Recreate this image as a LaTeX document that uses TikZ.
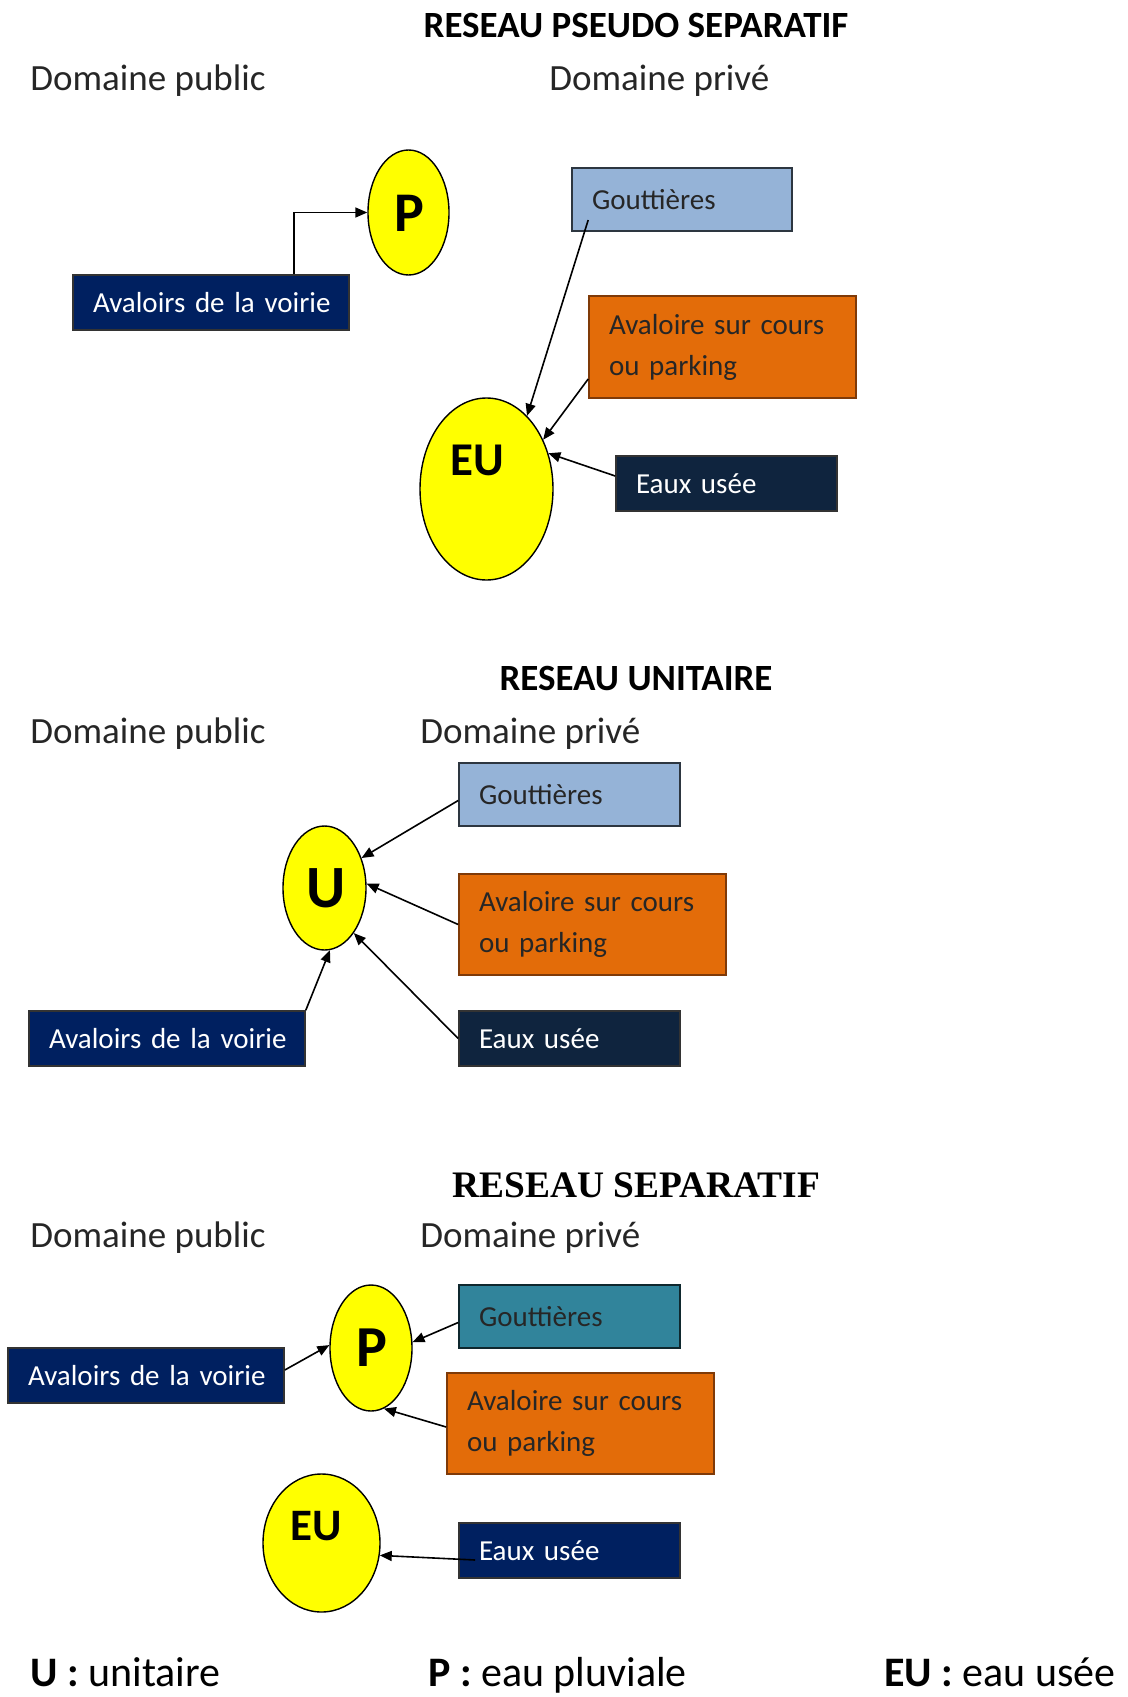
\documentclass[tikz,border=0pt]{standalone}
\usepackage{fontspec}
\setmainfont{Carlito}
\newfontfamily\timesfont{Liberation Serif}
\usetikzlibrary{shapes.geometric,arrows.meta}
\definecolor{navy}{HTML}{002060}
\definecolor{darknavy}{HTML}{0F243E}
\definecolor{lightblue}{HTML}{95B3D7}
\definecolor{teal3}{HTML}{31849B}
\definecolor{orange3}{HTML}{E36C09}
\definecolor{orangeb}{HTML}{7F3A08}
\definecolor{yel}{HTML}{FFFF00}
\tikzset{
  boxbase/.style={rectangle, draw=black!80, line width=0.8pt, inner xsep=10pt, inner ysep=0pt, align=left,
    font=\fontsize{14.5pt}{20.5pt}\selectfont},
  navybox/.style={boxbase, fill=navy, text=white},
  darkbox/.style={boxbase, fill=darknavy, text=white},
  bluebox/.style={boxbase, fill=lightblue, draw=black!70!lightblue, text=black!85},
  tealbox/.style={boxbase, fill=teal3, draw=black!70!teal3, text=black!85},
  orangebox/.style={boxbase, fill=orange3, draw=orangeb, text=black!85},
  bubble/.style={ellipse, draw=black, line width=0.7pt, fill=yel, inner sep=0pt},
  bubtxt/.style={font=\bfseries},
  heading/.style={anchor=base west, font=\fontsize{18.5pt}{22pt}\selectfont, text=black!85, inner sep=0pt},
  titletxt/.style={anchor=base, font=\fontsize{18.5pt}{22pt}\selectfont\bfseries, inner sep=0pt},
  legendtxt/.style={anchor=base west, font=\fontsize{21pt}{25pt}\selectfont, inner sep=0pt},
  arr/.style={draw=black, line width=0.8pt, -{Triangle[length=6pt,width=5pt]}},
}
\begin{document}
\begin{tikzpicture}[x=0.5pt,y=-0.5pt]
\useasboundingbox (0,0) rectangle (1128,1697);

% ---------------- Section 1 ----------------
\node[titletxt] (t1) at (636,37) {RESEAU PSEUDO SEPARATIF};
\node[heading] (dp1) at (30,90) {Domaine public};
\node[heading] (dv1) at (549,90) {Domaine privé};

\node[bubble, minimum width=40.5pt, minimum height=62.5pt] (P1) at (408.5,212.5) {};
\node[bubtxt, font=\fontsize{28pt}{30pt}\selectfont\bfseries] (P1t) at (409,213) {P};
\node[bubble, minimum width=66.5pt, minimum height=91pt] (EU1) at (486.5,489) {};
\node[bubtxt, font=\fontsize{23.5pt}{26pt}\selectfont\bfseries] (EU1t) at (477,460) {EU};

\node[navybox, minimum width=138pt, minimum height=27.5pt, text width=118pt] (av1) at (211,302.5) {\mbox{Avaloirs de la voirie}};
\node[bluebox, minimum width=110pt, minimum height=31.5pt, text width=90pt] (g1) at (682,199.5) {Gouttières};
\node[orangebox, minimum width=133.5pt, minimum height=51pt, text width=113.5pt] (ac1) at (722.5,347) {Avaloire sur cours\\ou parking};
\node[darkbox, minimum width=110.5pt, minimum height=27.5pt, text width=90.5pt] (eb1) at (726.5,483.5) {Eaux usée};

\draw[arr] ([xshift=41.5pt]av1.north) |- (P1.west);
\draw[arr] ([xshift=8.5pt,yshift=-10.25pt]g1.west) -- (EU1.61);
\draw[arr] ([yshift=-16pt]ac1.west) -- (EU1.41);
\draw[arr] ([yshift=3.75pt]eb1.west) -- (EU1.30);

% ---------------- Section 2 ----------------
\node[titletxt] (t2) at (636,690) {RESEAU UNITAIRE};
\node[heading] (dp2) at (30,743) {Domaine public};
\node[heading] (dv2) at (420,743) {Domaine privé};

\node[bubble, minimum width=41.5pt, minimum height=62pt] (U) at (324.5,888) {};
\node[bubtxt, font=\fontsize{30pt}{32pt}\selectfont\bfseries] (Ut) at (326,888) {U};

\node[bluebox, minimum width=110.5pt, minimum height=31.5pt, text width=90.5pt] (g2) at (569.5,794.5) {Gouttières};
\node[orangebox, minimum width=133.5pt, minimum height=50.5pt, text width=113.5pt] (ac2) at (592.5,924.5) {Avaloire sur cours\\ou parking};
\node[darkbox, minimum width=110.5pt, minimum height=27.5pt, text width=90.5pt] (eb2) at (569.5,1038.5) {Eaux usée};
\node[navybox, minimum width=138pt, minimum height=27.5pt, text width=118pt] (av2) at (167,1038.5) {\mbox{Avaloirs de la voirie}};

\draw[arr] ([yshift=-3pt]g2.west) -- (U.39);
\draw[arr] (ac2.west) -- (U.6);
\draw[arr] (eb2.west) -- (U.-57);
\draw[arr] (av2.north east) -- (U.-85);

% ---------------- Section 3 ----------------
\node[titletxt, font=\fontsize{18.7pt}{22pt}\selectfont\bfseries\timesfont] (t3) at (636.5,1197) {RESEAU SEPARATIF};
\node[heading] (dp3) at (30,1247) {Domaine public};
\node[heading] (dv3) at (420,1247) {Domaine privé};

\node[bubble, minimum width=41pt, minimum height=63pt] (P3) at (371,1348) {};
\node[bubtxt, font=\fontsize{29pt}{31pt}\selectfont\bfseries] (P3t) at (372,1348) {P};
\node[bubble, minimum width=58.5pt, minimum height=69pt] (EU3) at (321.5,1543) {};
\node[bubtxt, font=\fontsize{22.5pt}{25pt}\selectfont\bfseries] (EU3t) at (316,1526) {EU};

\node[tealbox, minimum width=110.5pt, minimum height=31.5pt, text width=90.5pt] (g3) at (569.5,1316.5) {Gouttières};
\node[orangebox, minimum width=133.5pt, minimum height=50.5pt, text width=113.5pt] (ac3) at (580.5,1423.5) {Avaloire sur cours\\ou parking};
\node[navybox, minimum width=138pt, minimum height=27.5pt, text width=118pt] (av3) at (146,1375.5) {\mbox{Avaloirs de la voirie}};
\node[navybox, minimum width=110.5pt, minimum height=27.5pt, text width=90.5pt] (eb3) at (569.5,1550.5) {Eaux usée};

\draw[arr] ([yshift=-3pt]g3.west) -- (P3.8);
\draw[arr] ([yshift=-1.75pt]ac3.west) -- (P3.-78);
\draw[arr] ([yshift=2.75pt]av3.east) -- (P3.176);
\draw[arr] ([xshift=8.5pt,yshift=-4.75pt]eb3.west) -- (EU3.-12);

% ---------------- Legend ----------------
\node[legendtxt] (l1) at (30,1686) {\textbf{U :} unitaire};
\node[legendtxt] (l2) at (428,1686) {\textbf{P :} eau pluviale};
\node[legendtxt] (l3) at (884,1686) {\textbf{EU :} eau usée};
\end{tikzpicture}
\end{document}
